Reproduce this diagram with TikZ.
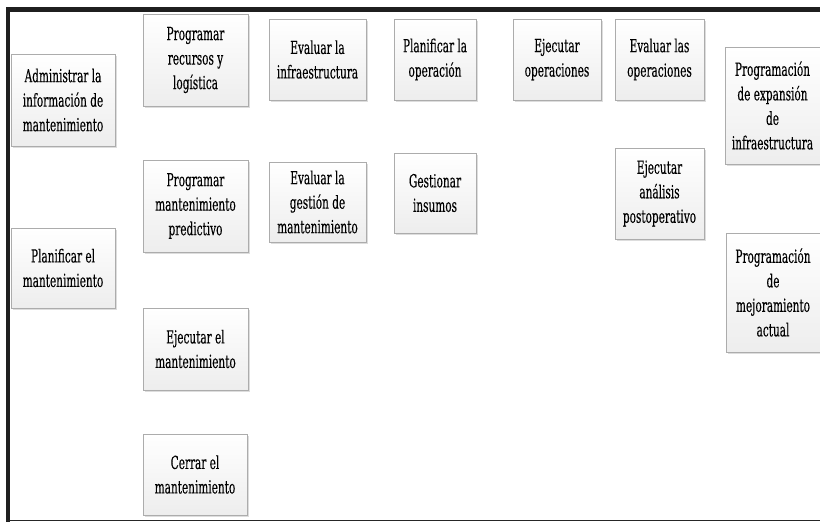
\documentclass[tikz,border=0pt]{standalone}
\usepackage{fontspec}
\newfontfamily\boxfont[FakeStretch=0.65, FakeBold=0.3]{DejaVu Serif Condensed}
\usetikzlibrary{shadows}
\tikzset{
  taskbox/.style={draw=gray!65, line width=0.6pt, top color=white, bottom color=gray!14,
    drop shadow={shadow xshift=1.5pt, shadow yshift=-1.5pt, fill=gray!45, opacity=0.6},
    align=center, inner sep=0pt, font=\boxfont\fontsize{18}{24.5}\selectfont},
  framebar/.style={fill=black!88, draw=none}
}
\begin{document}
\begin{tikzpicture}[x=1pt, y=-1pt]
  \useasboundingbox (0,0) rectangle (820,522);
  % frame
  \fill[framebar] (6,7) rectangle (820,12);
  \fill[framebar] (6,7) rectangle (10,522);
  \fill[black!85] (6,519.5) rectangle (820,521);
  % maintenance column
  \node[taskbox, minimum width=104pt, minimum height=92pt] (adm) at (63,100)
    {Administrar la\\información de\\mantenimiento};
  \node[taskbox, minimum width=104pt, minimum height=80pt] (pman) at (63,268)
    {Planificar el\\mantenimiento};
  \node[taskbox, minimum width=105pt, minimum height=92pt] (prec) at (195.5,60)
    {Programar\\recursos y\\logística};
  \node[taskbox, minimum width=105pt, minimum height=92pt] (ppred) at (195.5,206)
    {Programar\\mantenimiento\\predictivo};
  \node[taskbox, minimum width=105pt, minimum height=82pt] (eman) at (195.5,349)
    {Ejecutar el\\mantenimiento};
  \node[taskbox, minimum width=104pt, minimum height=81pt] (cman) at (195,474.5)
    {Cerrar el\\mantenimiento};
  % evaluation and operation
  \node[taskbox, minimum width=97pt, minimum height=81pt] (einf) at (317.5,59.5)
    {Evaluar la\\infraestructura};
  \node[taskbox, minimum width=97pt, minimum height=80pt] (egest) at (317.5,202)
    {Evaluar la\\gestión de\\mantenimiento};
  \node[taskbox, minimum width=82pt, minimum height=81pt] (pop) at (435,59.5)
    {Planificar la\\operación};
  \node[taskbox, minimum width=82pt, minimum height=80pt] (gins) at (435,193)
    {Gestionar\\insumos};
  \node[taskbox, minimum width=88pt, minimum height=81pt] (eop) at (557,59.5)
    {Ejecutar\\operaciones};
  \node[taskbox, minimum width=89pt, minimum height=81pt] (evop) at (659.5,59.5)
    {Evaluar las\\operaciones};
  \node[taskbox, minimum width=89pt, minimum height=91pt] (eana) at (659.5,193.5)
    {Ejecutar\\análisis\\postoperativo};
  % programming column
  \node[taskbox, minimum width=95pt, minimum height=117pt] (pexp) at (772.5,105.5)
    {Programación\\de expansión\\de\\infraestructura};
  \node[taskbox, minimum width=94pt, minimum height=119pt] (pmej) at (773,292.5)
    {Programación\\de\\mejoramiento\\actual};
\end{tikzpicture}
\end{document}
